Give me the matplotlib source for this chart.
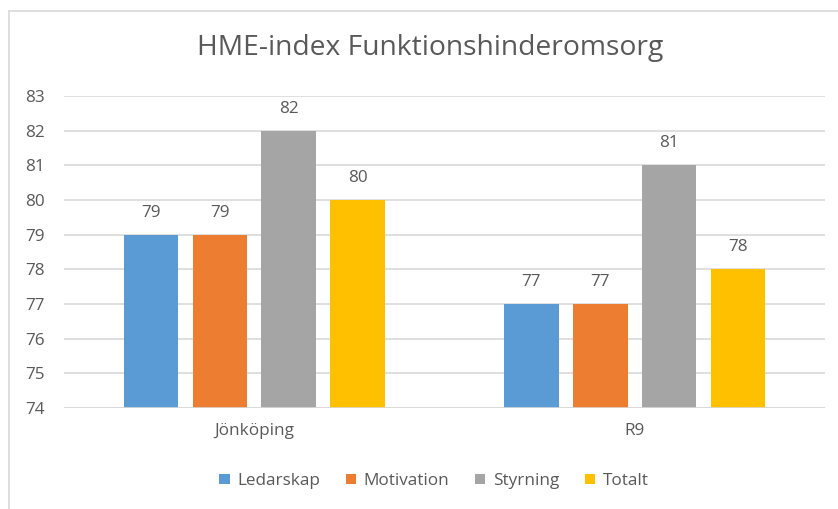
import matplotlib
matplotlib.use("Agg")
import matplotlib.pyplot as plt
from matplotlib.lines import Line2D
from matplotlib.patches import Patch
import numpy as np

plt.rcParams['font.family'] = ['Open Sans', 'DejaVu Sans']

title = "HME-index Funktionshinderomsorg"
categories = ["Jönköping", "R9"]
series_names = ["Ledarskap", "Motivation", "Styrning", "Totalt"]
ledarskap = [79, 77]
motivation = [79, 77]
styrning = [82, 81]
totalt = [80, 78]
y_ticks = [74, 75, 76, 77, 78, 79, 80, 81, 82, 83]

series = [ledarskap, motivation, styrning, totalt]
colors = ["#5B9BD5", "#ED7D31", "#A5A5A5", "#FFC000"]
text_color = "#595959"
grid_color = "#D9D9D9"
fs = 12.3

fig = plt.figure(figsize=(8.38, 5.09), dpi=100)
ax = fig.add_axes([64/838, 1-408/509, (825-64)/838, (408-96)/509])

x = np.arange(len(categories))
width = 0.143
step = 0.181
for i, (vals, c, name) in enumerate(zip(series, colors, series_names)):
    pos = x + (i - 1.5) * step
    ax.bar(pos, np.array(vals) - y_ticks[0], width=width, bottom=y_ticks[0],
           color=c, label=name, zorder=3)
    for p, v in zip(pos, vals):
        ax.annotate(f"{v}", (p, v), xytext=(0, 10), textcoords="offset points",
                    ha="center", va="bottom", fontsize=fs, color=text_color)

ax.set_xlim(-0.5, 1.5)
ax.set_ylim(y_ticks[0], y_ticks[-1])
ax.set_yticks(y_ticks)
ax.set_xticks(x)
ax.set_xticklabels(categories)
ax.tick_params(axis='both', length=0, labelsize=fs, labelcolor=text_color)
ax.tick_params(axis='y', pad=14)
ax.tick_params(axis='x', pad=11)
ax.grid(axis='y', color=grid_color, linewidth=1.2, zorder=0)
for s in ax.spines.values():
    s.set_visible(False)
ax.axhline(y_ticks[0], color=grid_color, linewidth=1.2, zorder=4)

fig.text(430/838, 1-48/509, title, ha='center', va='center', fontsize=20.3, color=text_color)

handles = [Patch(facecolor=c, edgecolor='none') for c in colors]
fig.legend(handles, series_names, loc='center', bbox_to_anchor=(434/838, 1-481/509),
           ncol=4, frameon=False, fontsize=fs, labelcolor=text_color,
           handlelength=0.6, handleheight=0.6, handletextpad=0.45, columnspacing=1.5)

fig.add_artist(Line2D([8.5/838, 1], [1-10.5/509, 1-10.5/509], transform=fig.transFigure,
                      color=grid_color, linewidth=1.2))
fig.add_artist(Line2D([8.5/838, 8.5/838], [0, 1-10.5/509], transform=fig.transFigure,
                      color=grid_color, linewidth=1.2))

fig.savefig("out.png", dpi=100)
